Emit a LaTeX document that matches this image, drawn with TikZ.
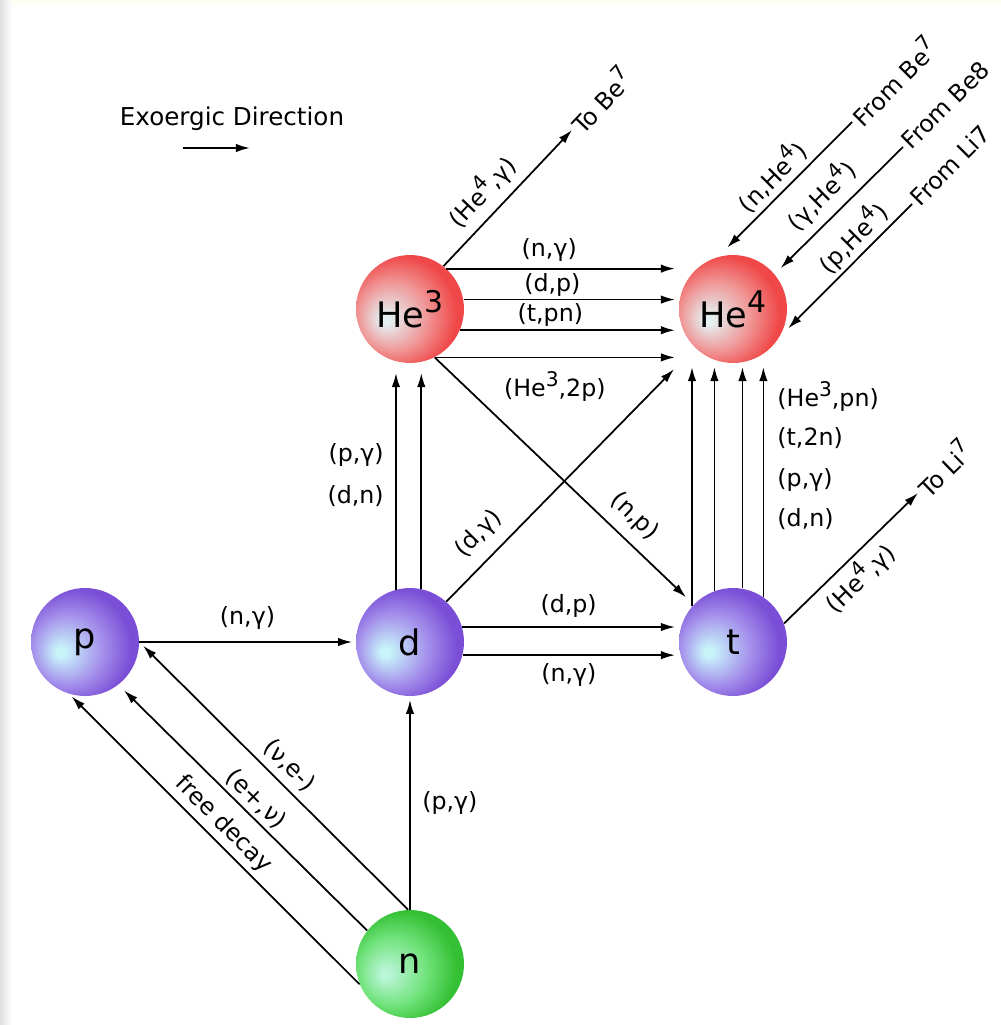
\documentclass[tikz,border=0pt]{standalone}
\usepackage{fontspec}
\setmainfont{DejaVu Sans}
\usetikzlibrary{arrows.meta,calc}
\definecolor{phl}{RGB}{200,244,250}
\definecolor{pmid}{RGB}{165,145,236}
\definecolor{pedge}{RGB}{122,78,214}
\definecolor{rhl}{RGB}{228,240,242}
\definecolor{rmid}{RGB}{240,150,150}
\definecolor{redge}{RGB}{240,72,72}
\definecolor{ghl}{RGB}{185,245,215}
\definecolor{gmid}{RGB}{112,226,122}
\definecolor{gedge}{RGB}{52,192,52}
\pgfdeclareradialshading{purpball}{\pgfpoint{-12bp}{-5bp}}{color(0bp)=(phl); color(2bp)=(phl); color(16bp)=(pmid); color(27bp)=(pedge); color(50bp)=(pedge)}
\pgfdeclareradialshading{redball}{\pgfpoint{-12bp}{-5bp}}{color(0bp)=(rhl); color(2bp)=(rhl); color(16bp)=(rmid); color(27bp)=(redge); color(50bp)=(redge)}
\pgfdeclareradialshading{greenball}{\pgfpoint{-12bp}{-5bp}}{color(0bp)=(ghl); color(2bp)=(ghl); color(16bp)=(gmid); color(27bp)=(gedge); color(50bp)=(gedge)}
\newcommand\lblf{\fontsize{13.5}{16}\selectfont}
\newcommand\nodef{\fontsize{20}{24}\selectfont}
\newcommand\exof{\fontsize{14}{17}\selectfont}
\newcommand\sps[1]{\raisebox{0.42em}{\scalebox{0.85}{#1}}}
\begin{document}
\begin{tikzpicture}[x=0.02cm,y=-0.02cm,
  arr/.style={line width=1pt, -{Latex[length=8pt,width=4.8pt]}},
  lbl/.style={font=\lblf, inner sep=1.5pt},
  ball/.style={circle, minimum size=2.16cm, inner sep=0pt, font=\nodef, shade},
]
\useasboundingbox (0,0) rectangle (1001,1025);
\fill[white] (0,0) rectangle (1001,1025);
\shade[left color=black!12, right color=white] (0,0) rectangle (12,1025);
\fill[yellow!4] (12,0) rectangle (1001,5);

% nodes
\node[ball, shading=purpball] (p) at (85,642) {p};
\node[ball, shading=purpball] (d) at (410,642) {d};
\node[ball, shading=purpball] (t) at (733,642) {t};
\node[ball, shading=redball] (He3) at (410,309) {He\sps{3}};
\node[ball, shading=redball] (He4) at (733,309) {He\sps{4}};
\node[ball, shading=greenball] (n) at (410,964) {n};

% legend
\node[font=\exof, inner sep=0pt] (exo) at (232,119) {Exoergic Direction};
\coordinate (ex1) at (183,148);
\coordinate (ex2) at (250,148);
\draw[arr] (ex1) -- (ex2);

% helper coordinates
\coordinate (hx) at (675,0);
\coordinate (hb3) at (0,373);
\coordinate (hb4) at (0,367);

% He3 -> He4
\draw[arr] (He3.48) -- (He3.48 -| hx) node[lbl, pos=0.45, above=2pt] {(n,γ)};
\draw[arr] (He3.10) -- (He3.10 -| hx) node[lbl, pos=0.42, above=0pt] {(d,p)};
\draw[arr] (He3.-23) -- (He3.-23 -| hx) node[lbl, pos=0.42, above=0pt] {(t,pn)};
\draw[arr] (He3.-63) -- (He3.-63 -| hx) node[lbl, pos=0.5, below=6pt] {(He\sps{3},2p)};

% d -> He3
\draw[arr] (d.105) -- (d.105 |- hb3)
  node[lbl, pos=0.62, left=5pt] {(p,γ)}
  node[lbl, pos=0.43, left=5pt] {(d,n)};
\draw[arr] (d.78) -- (d.78 |- hb3);

% t -> He4
\draw[arr] (t.139) -- (t.139 |- hb4);
\draw[arr] (t.110) -- (t.110 |- hb4);
\draw[arr] (t.80) -- (t.80 |- hb4);
\draw[arr] (t.56) -- (t.56 |- hb4)
  node[lbl, pos=0.87, right=6pt] {(He\sps{3},pn)}
  node[lbl, pos=0.69, right=6pt] {(t,2n)}
  node[lbl, pos=0.51, right=6pt] {(p,γ)}
  node[lbl, pos=0.34, right=6pt] {(d,n)};

% d -> t
\draw[arr] (d.16) -- (d.16 -| hx) node[lbl, midway, above=3.5pt] {(d,p)};
\draw[arr] (d.-14) -- (d.-14 -| hx) node[lbl, midway, below=3pt] {(n,γ)};

% diagonals
\draw[arr, shorten >=17pt] (d.48) -- (He4) node[lbl, sloped, pos=0.2, above=5pt] {(d,γ)};
\draw[arr, shorten >=6pt] (He3.-63) -- (t) node[lbl, sloped, pos=0.71, above=4.5pt] {(n,p)};

% p -> d, n -> d
\draw[arr, shorten >=2pt] (p) -- (d) node[lbl, midway, above=5pt] {(n,γ)};
\draw[arr, shorten >=2pt] (n) -- (d) node[lbl, midway, right=5pt] {(p,γ)};

% n -> p
\draw[arr, shorten >=3pt] (n.92) -- (p.0) node[lbl, sloped, pos=0.49, above=2.5pt] {(ν,e-)};
\draw[arr, shorten >=4.5pt] (n.142) -- (p.-52) node[lbl, sloped, pos=0.49, above=0.7pt] {(e+,ν)};
\draw[arr, shorten >=2pt] (n.-158) -- (p.-107) node[lbl, sloped, pos=0.51, above=1pt] {free decay};

% to Be7, to Li7
\coordinate (tobe7) at (572,130);
\draw[arr] (He3.52) -- (tobe7)
  node[lbl, sloped, pos=0.43, above=3pt] {(He\sps{4},γ)}
  node[lbl, sloped, pos=1, anchor=west] {To Be\sps{7}};
\coordinate (toli7) at (918,493);
\draw[arr] (t.20) -- (toli7)
  node[lbl, sloped, pos=0.46, below=1pt] {(He\sps{4},γ)}
  node[lbl, sloped, pos=1, anchor=west] {To Li\sps{7}};

% from Be7, Be8, Li7
\coordinate (fbe7) at (852,122);
\coordinate (fbe8) at (903,147);
\coordinate (fli7) at (912,204);
\draw[arr, shorten >=7.4pt] (fbe7) -- (He4.106)
  node[lbl, sloped, pos=0.5, above=1pt] {(n,He\sps{4})}
  node[lbl, sloped, pos=0, anchor=west] {From Be\sps{7}};
\draw[arr, shorten >=4.8pt] (fbe8) -- (He4.40)
  node[lbl, sloped, pos=0.51, above=3pt] {(γ,He\sps{4})}
  node[lbl, sloped, pos=0, anchor=west] {From Be8};
\draw[arr, shorten >=6.9pt] (fli7) -- (He4.-31)
  node[lbl, sloped, pos=0.35, above=0pt] {(p,He\sps{4})}
  node[lbl, sloped, pos=0, anchor=west] {From Li7};
\end{tikzpicture}
\end{document}
